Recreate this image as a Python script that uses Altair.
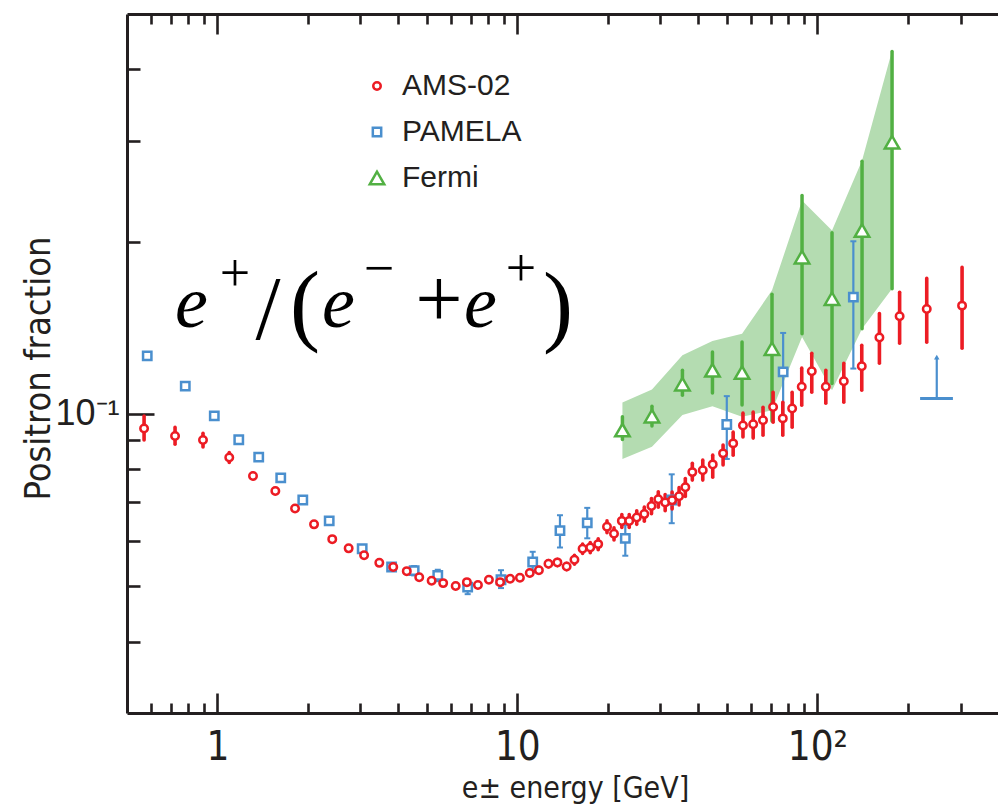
import altair as alt
import pandas as pd

# ---------------- data ----------------
ams_energy = [0.570, 0.723, 0.896, 1.096, 1.315, 1.561, 1.816, 2.101, 2.416, 2.74,
              3.085, 3.467, 3.858, 4.28, 4.71, 5.18, 5.66, 6.23, 6.79, 7.39,
              8.04, 8.76, 9.46, 10.2, 11.0, 11.8, 12.7, 13.6, 14.6, 15.5,
              16.5, 17.5, 18.6, 19.9, 21.0, 22.3, 23.6, 25.0, 26.5, 28.0,
              29.5, 31.1, 32.8, 34.6, 36.3, 38.3, 41.5, 44.8, 48.5, 52.4,
              56.5, 61.1, 65.9, 71.2, 76.7, 82.4, 88.7, 95.8, 106.7, 122.5,
              140.6, 161.0, 188.0, 231.5, 303.6]
ams_frac = [0.0943, 0.0915, 0.0900, 0.0839, 0.0779, 0.0733, 0.0683, 0.0641, 0.0604, 0.0582,
            0.0566, 0.0549, 0.0540, 0.0531, 0.0518, 0.0511, 0.0506, 0.0500, 0.0508, 0.0502,
            0.0513, 0.0508, 0.0515, 0.0517, 0.0527, 0.0533, 0.0547, 0.0550, 0.0541, 0.0556,
            0.0581, 0.0584, 0.0592, 0.0635, 0.0617, 0.0650, 0.0650, 0.0659, 0.0668, 0.0690,
            0.0709, 0.0700, 0.0706, 0.0718, 0.0744, 0.0791, 0.0797, 0.0816, 0.0853, 0.0888,
            0.0954, 0.0959, 0.0975, 0.1028, 0.0982, 0.1022, 0.1115, 0.1187, 0.1115, 0.1140,
            0.1211, 0.1360, 0.1481, 0.1525, 0.1546]
ams_lo = [0.0900, 0.0885, 0.0875, 0.0822, 0.0770, 0.0725, 0.0676, 0.0635, 0.0598, 0.0577,
          0.0561, 0.0544, 0.0535, 0.0526, 0.0513, 0.0506, 0.0501, 0.0495, 0.0503, 0.0497,
          0.0508, 0.0503, 0.0510, 0.0512, 0.0521, 0.0527, 0.0540, 0.0543, 0.0534, 0.0546,
          0.0570, 0.0572, 0.0579, 0.0620, 0.0602, 0.0633, 0.0633, 0.0641, 0.0649, 0.0669,
          0.0687, 0.0677, 0.0682, 0.0693, 0.0717, 0.0766, 0.0766, 0.0775, 0.0814, 0.0847,
          0.0911, 0.0907, 0.0918, 0.0967, 0.0918, 0.0948, 0.1035, 0.1091, 0.1044, 0.1048,
          0.1100, 0.1226, 0.1329, 0.1334, 0.1302]
ams_hi = [0.0991, 0.0947, 0.0925, 0.0856, 0.0788, 0.0741, 0.0690, 0.0647, 0.0610, 0.0587,
          0.0571, 0.0554, 0.0545, 0.0536, 0.0523, 0.0516, 0.0511, 0.0505, 0.0513, 0.0507,
          0.0518, 0.0513, 0.0520, 0.0522, 0.0533, 0.0539, 0.0554, 0.0557, 0.0548, 0.0566,
          0.0592, 0.0596, 0.0605, 0.0650, 0.0632, 0.0667, 0.0667, 0.0677, 0.0687, 0.0711,
          0.0731, 0.0723, 0.0730, 0.0743, 0.0771, 0.0820, 0.0830, 0.0847, 0.0882, 0.0929,
          0.1003, 0.1007, 0.1027, 0.1091, 0.1048, 0.1091, 0.1202, 0.1276, 0.1192, 0.1226,
          0.1318, 0.1498, 0.1631, 0.1725, 0.1803]

pamela_energy = [0.584, 0.782, 0.977, 1.179, 1.374, 1.627, 1.927, 2.36, 3.04, 3.81,
                 4.53, 5.43, 6.83, 8.82, 11.25, 13.87, 17.1, 22.9, 32.7, 49.9,
                 76.9, 131.8]
pamela_frac = [0.1263, 0.1118, 0.0992, 0.0901, 0.0840, 0.0773, 0.0707, 0.0650, 0.0581, 0.0540,
               0.0532, 0.0522, 0.0498, 0.0513, 0.0551, 0.0625, 0.0645, 0.0606, 0.0707, 0.0958,
               0.1184, 0.1600]
pamela_lo = [0.1250, 0.1107, 0.0982, 0.0892, 0.0832, 0.0765, 0.0700, 0.0643, 0.0573, 0.0532,
             0.0522, 0.0510, 0.0484, 0.0496, 0.0529, 0.0584, 0.0606, 0.0565, 0.0644, 0.0834,
             0.0982, 0.1200]
pamela_hi = [0.1276, 0.1129, 0.1002, 0.0910, 0.0848, 0.0781, 0.0714, 0.0657, 0.0589, 0.0548,
             0.0542, 0.0534, 0.0512, 0.0533, 0.0574, 0.0665, 0.0685, 0.0639, 0.0784, 0.1074,
             0.1385, 0.2003]
pamela_limit_energy = [250.0]
pamela_limit_bin_lo = [220.0]
pamela_limit_bin_hi = [283.0]
pamela_limit_frac = [0.1064]
pamela_limit_arrow = [0.1256]

fermi_energy = [22.4, 28.1, 35.5, 44.7, 56.1, 70.6, 88.9, 111.9, 140.9, 177.4]
fermi_frac = [0.0937, 0.0991, 0.1127, 0.1192, 0.1181, 0.1300, 0.1879, 0.1590, 0.2092, 0.2984]
fermi_lo = [0.0902, 0.0952, 0.1078, 0.1088, 0.1036, 0.0972, 0.1381, 0.1130, 0.1409, 0.1655]
fermi_hi = [0.0988, 0.1031, 0.1192, 0.1283, 0.1336, 0.1618, 0.2408, 0.2073, 0.2764, 0.4301]
fermi_band_lo = [0.0834, 0.0876, 0.0995, 0.1031, 0.0988, 0.1015, 0.1362, 0.1100, 0.1409, 0.1655]
fermi_band_hi = [0.1047, 0.1103, 0.1266, 0.1341, 0.1381, 0.1644, 0.2360, 0.2092, 0.2772, 0.4313]

series_names = ["AMS-02", "PAMELA", "Fermi"]
x_major_ticks = [1, 10, 100]
x_minor_ticks = [0.6, 0.7, 0.8, 0.9, 2, 3, 4, 5, 6, 7, 8, 9,
                 20, 30, 40, 50, 60, 70, 80, 90, 200, 300]
y_major_ticks = [0.1]
y_minor_ticks = [0.04, 0.05, 0.06, 0.07, 0.08, 0.09, 0.2, 0.3, 0.4]

# ---------------- styling ----------------
W, H = 871, 699
RED = "#ec1c24"
BLUE = "#4a8fce"
GREEN = "#52b043"
BAND = "#b4dcb1"
INK = "#231f20"
SANS = "Liberation Sans, Arial, sans-serif"
NARROW = "Liberation Sans Narrow, Arial Narrow, DejaVu Sans Condensed, Liberation Sans, sans-serif"
SERIF = "Liberation Serif, Times New Roman, serif"

xs = alt.Scale(type="log", domain=[0.5, 400])
ys = alt.Scale(type="log", domain=[0.03, 0.5])

def tick_axis(orient, values, size, offset=0, domain=False):
    return alt.Axis(orient=orient, values=values, offset=offset, ticks=True,
                    tickSize=size, tickWidth=2.6, tickColor=INK, labels=False,
                    domain=domain, domainColor=INK, domainWidth=3, grid=False,
                    title=None)

x_main = alt.Axis(orient="bottom", values=x_major_ticks,
                  labelExpr="datum.value == 100 ? '10²' : datum.value == 10 ? '10' : '1'",
                  ticks=False, tickSize=0, domain=True, domainColor=INK, domainWidth=3,
                  grid=False, labelFont=NARROW, labelFontSize=40, labelColor=INK,
                  labelPadding=14, labelFlush=False,
                  title="e± energy [GeV]", titleFont=NARROW, titleFontSize=30,
                  titleFontWeight="normal", titleColor=INK, titleX=448, titleY=84,
                  titleBaseline="alphabetic", titleAlign="center")
y_main = alt.Axis(orient="left", values=y_major_ticks, labelExpr="'10⁻¹'",
                  ticks=False, tickSize=0, domain=True, domainColor=INK, domainWidth=3,
                  grid=False, labelFont=SANS, labelFontSize=36, labelColor=INK,
                  labelPadding=8, title="Positron fraction", titleFont=NARROW,
                  titleFontSize=36, titleFontWeight="normal", titleColor=INK,
                  titleX=-78, titleY=354, titleAngle=270, titleBaseline="alphabetic",
                  titleAlign="center")

x_bottom_minor = tick_axis("top", x_minor_ticks, 10, offset=-H)
x_bottom_major = tick_axis("top", x_major_ticks, 20, offset=-H)
x_top_minor = tick_axis("bottom", x_minor_ticks, 10, offset=-H, domain=True)
x_top_major = tick_axis("bottom", x_major_ticks, 20, offset=-H)
y_left_minor = tick_axis("right", y_minor_ticks, 13, offset=-W)
y_left_major = tick_axis("right", y_major_ticks, 27, offset=-W)
y_right_major = tick_axis("right", y_major_ticks, 9)

# ---------------- tables ----------------
ams = pd.DataFrame({"E": ams_energy, "f": ams_frac, "lo": ams_lo, "hi": ams_hi})
ams["series"] = series_names[0]
pam = pd.DataFrame({"E": pamela_energy, "f": pamela_frac, "lo": pamela_lo, "hi": pamela_hi})
pam["series"] = series_names[1]
fermi = pd.DataFrame({"E": fermi_energy, "f": fermi_frac, "lo": fermi_lo, "hi": fermi_hi,
                      "blo": fermi_band_lo, "bhi": fermi_band_hi})
fermi["series"] = series_names[2]
limit = pd.DataFrame({"E": pamela_limit_energy, "E1": pamela_limit_bin_lo,
                      "E2": pamela_limit_bin_hi, "f": pamela_limit_frac,
                      "top": pamela_limit_arrow})
points = pd.concat([pam, fermi[["E", "f", "lo", "hi", "series"]], ams], ignore_index=True)

# ---------------- layers ----------------
band = alt.Chart(fermi).mark_area(color=BAND, opacity=1).encode(
    x=alt.X("E:Q", scale=xs, axis=x_main),
    y=alt.Y("bhi:Q", scale=ys, axis=y_main),
    y2="blo:Q")

fermi_err = alt.Chart(fermi).mark_rule(color=GREEN, strokeWidth=3.5, strokeCap="round").encode(
    x=alt.X("E:Q", scale=xs, axis=x_bottom_minor),
    y=alt.Y("lo:Q", scale=ys, axis=y_left_minor), y2="hi:Q")

pam_err = alt.Chart(pam).mark_rule(color=BLUE, strokeWidth=2.2).encode(
    x=alt.X("E:Q", scale=xs, axis=x_bottom_major),
    y=alt.Y("lo:Q", scale=ys, axis=y_left_major), y2="hi:Q")

pam_cap_lo = alt.Chart(pam).mark_tick(color=BLUE, orient="horizontal", size=6,
                                      thickness=2, opacity=1).encode(
    x=alt.X("E:Q", scale=xs, axis=x_top_minor),
    y=alt.Y("lo:Q", scale=ys, axis=y_right_major))
pam_cap_hi = alt.Chart(pam).mark_tick(color=BLUE, orient="horizontal", size=6,
                                      thickness=2, opacity=1).encode(
    x=alt.X("E:Q", scale=xs, axis=x_top_major),
    y=alt.Y("hi:Q", scale=ys, axis=None))

ams_err = alt.Chart(ams).mark_rule(color=RED, strokeWidth=3.6, strokeCap="round").encode(
    x=alt.X("E:Q", scale=xs, axis=None),
    y=alt.Y("lo:Q", scale=ys, axis=None), y2="hi:Q")

limit_bar = alt.Chart(limit).mark_rule(color=BLUE, strokeWidth=3).encode(
    x=alt.X("E1:Q", scale=xs, axis=None), x2="E2:Q",
    y=alt.Y("f:Q", scale=ys, axis=None))
limit_stem = alt.Chart(limit).mark_rule(color=BLUE, strokeWidth=2.2).encode(
    x=alt.X("E:Q", scale=xs, axis=None),
    y=alt.Y("f:Q", scale=ys, axis=None), y2="top:Q")
limit_head = alt.Chart(limit).mark_point(shape="triangle-up", filled=True, color=BLUE,
                                         size=30, opacity=1).encode(
    x=alt.X("E:Q", scale=xs, axis=None),
    y=alt.Y("top:Q", scale=ys, axis=None))

leg = alt.Legend(orient="none", legendX=235, legendY=57, title=None, padding=0,
                 labelFont=SANS, labelFontSize=30, labelColor=INK, labelOffset=10,
                 rowPadding=16, symbolStrokeWidth=2.5, labelLimit=0)
pts = alt.Chart(points).mark_point(filled=False, fill="white", strokeWidth=2.5,
                                   opacity=1).encode(
    x=alt.X("E:Q", scale=xs, axis=None),
    y=alt.Y("f:Q", scale=ys, axis=None),
    color=alt.Color("series:N", scale=alt.Scale(domain=series_names,
                                                 range=[RED, BLUE, GREEN]), legend=leg),
    shape=alt.Shape("series:N", scale=alt.Scale(domain=series_names,
                                                 range=["circle", "square", "triangle-up"]),
                    legend=leg),
    size=alt.Size("series:N", scale=alt.Scale(type="ordinal", domain=series_names,
                                               range=[56, 70, 210]),
                  legend=leg))

one = pd.DataFrame({"k": [0]})
def piece(s, x, y, size, style="normal", align="center"):
    return alt.Chart(one).mark_text(text=s, font=SERIF, fontSize=size, fontStyle=style,
                                    align=align, baseline="alphabetic",
                                    color="black").encode(x=alt.value(x), y=alt.value(y))

formula = [
    piece("e", 48, 313, 74, "italic", "left"),
    piece("+", 108, 277, 54),
    piece("/", 141, 325, 90),
    piece("(", 178, 320, 90),
    piece("e", 195, 313, 74, "italic", "left"),
    piece("\u2212", 252, 272, 54),
    piece("+", 312, 313, 84),
    piece("e", 337, 313, 74, "italic", "left"),
    piece("+", 394, 272, 54),
    piece(")", 431, 321, 90),
]

chart = alt.layer(band, fermi_err, pam_err, pam_cap_lo, pam_cap_hi, ams_err,
                  limit_bar, limit_stem, limit_head, pts, *formula).resolve_axis(
    x="independent", y="independent"
).properties(
    width=W, height=H,
    autosize=alt.AutoSizeParams(type="none"),
    padding={"left": 119, "top": 6, "right": 0, "bottom": 94},
    background="white",
).configure_view(stroke=None)

chart.save("out.html", embed_options={"renderer": "svg", "actions": False})
